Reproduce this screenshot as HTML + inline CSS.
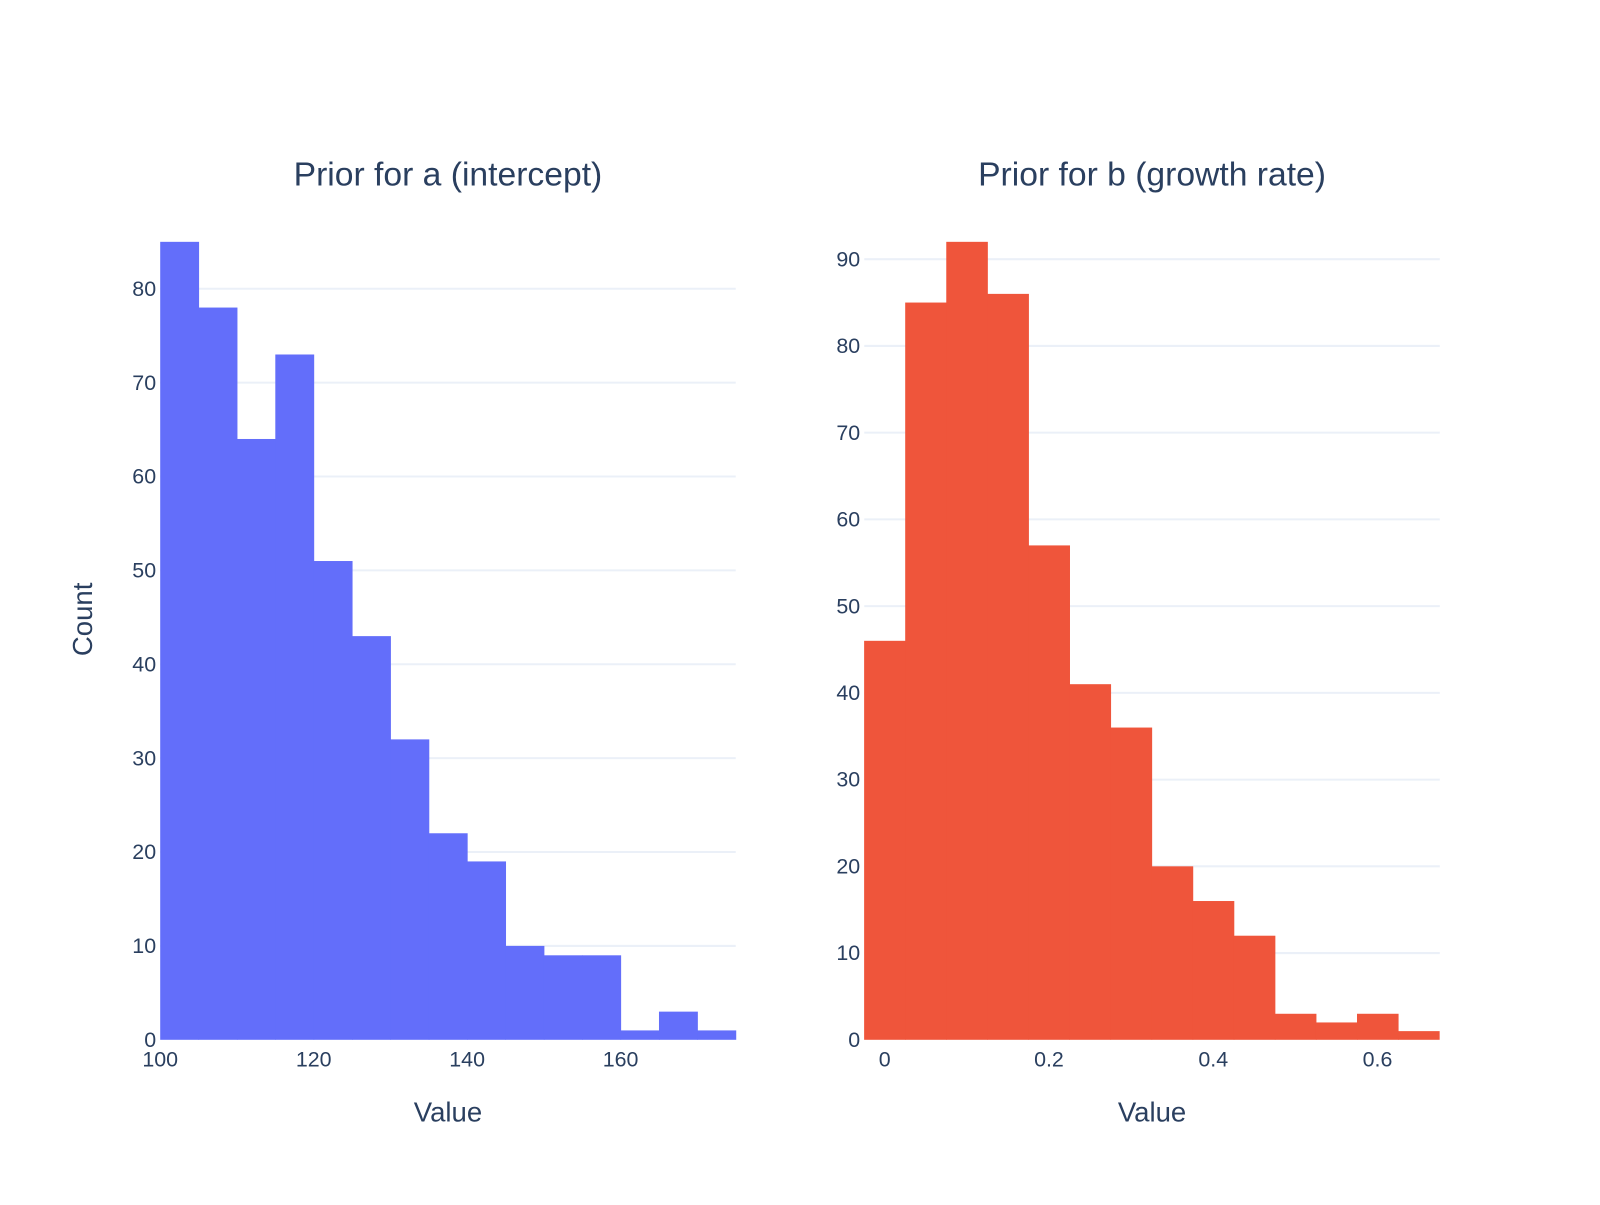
<!DOCTYPE html>
<html><head><meta charset="utf-8"><style>
html,body{margin:0;padding:0;background:#fff;}
svg text{font-family:"Liberation Sans","DejaVu Sans",sans-serif;fill:#2a3f5f;}
</style></head><body>
<svg id="chart" width="1600" height="1200" viewBox="0 0 1568 1176" xmlns="http://www.w3.org/2000/svg">
<g id="left"></g>
<g id="right"></g>
</svg>
<script>
const aEdgesStart = 100;
const aBinWidth = 5;
const aCounts = [85,78,64,73,51,43,32,22,19,10,9,9,1,3,1];
const aXTicks = [100,120,140,160];
const aYTicks = [0,10,20,30,40,50,60,70,80];
const bEdgesStart = -0.025;
const bBinWidth = 0.05;
const bCounts = [46,85,92,86,57,41,36,20,16,12,3,2,3,1];
const bXTicks = [0,0.2,0.4,0.6];
const bYTicks = [0,10,20,30,40,50,60,70,80,90];
const NS = "http://www.w3.org/2000/svg";
function mk(tag, attrs, parent){const e=document.createElementNS(NS,tag);for(const k in attrs)e.setAttribute(k,attrs[k]);parent.appendChild(e);return e;}
function panel(g, o){
  const sx=v=>o.x0+(v-o.xmin)/(o.xmax-o.xmin)*(o.x1-o.x0);
  const sy=v=>o.y0-(v-o.ymin)/(o.ymax-o.ymin)*(o.y0-o.y1);
  o.yTicks.forEach(t=>{
    if(t!==0){const l=mk("line",{x1:o.x0,x2:o.x1,y1:sy(t),y2:sy(t),stroke:"#ebf0f8","stroke-width":2},g);
    
    }
    const tx=mk("text",{x:o.x0-4,y:sy(t)+7,"text-anchor":"end","font-size":21},g);tx.textContent=t;
    
    
  });
  o.counts.forEach((c,i)=>{
    const a=o.start+i*o.w,b=a+o.w;
    const r=mk("rect",{x:sx(a),y:sy(c),width:sx(b)-sx(a)+0.5,height:sy(0)-sy(c),fill:o.color},g);
    
    
  });
  o.xTicks.forEach(t=>{
    const tx=mk("text",{x:sx(t),y:o.y0+26,"text-anchor":"middle","font-size":21},g);tx.textContent=t;
    
    
  });
  const xt=mk("text",{x:(o.x0+o.x1)/2,y:1099,"text-anchor":"middle","font-size":27},g);xt.textContent="Value";
  
  
  const tt=mk("text",{x:(o.x0+o.x1)/2,y:182,"text-anchor":"middle","font-size":33},g);tt.textContent=o.title;
  
  
}
panel(document.getElementById('left'),{x0:157,x1:721,y0:1019,y1:237,xmin:100,xmax:175,ymin:0,ymax:85,
  counts:aCounts,start:aEdgesStart,w:aBinWidth,xTicks:aXTicks,yTicks:aYTicks,color:"#636efa",title:"Prior for a (intercept)"});
panel(document.getElementById('right'),{x0:847,x1:1411,y0:1019,y1:237,xmin:-0.0248,xmax:0.6758,ymin:0,ymax:92,
  counts:bCounts,start:bEdgesStart,w:bBinWidth,xTicks:bXTicks,yTicks:bYTicks,color:"#EF553B",title:"Prior for b (growth rate)"});
const yt=mk("text",{x:90,y:607,"text-anchor":"middle","font-size":27,transform:"rotate(-90 90 607)"},document.getElementById('left'));
yt.textContent="Count";


</script>
</body></html>
